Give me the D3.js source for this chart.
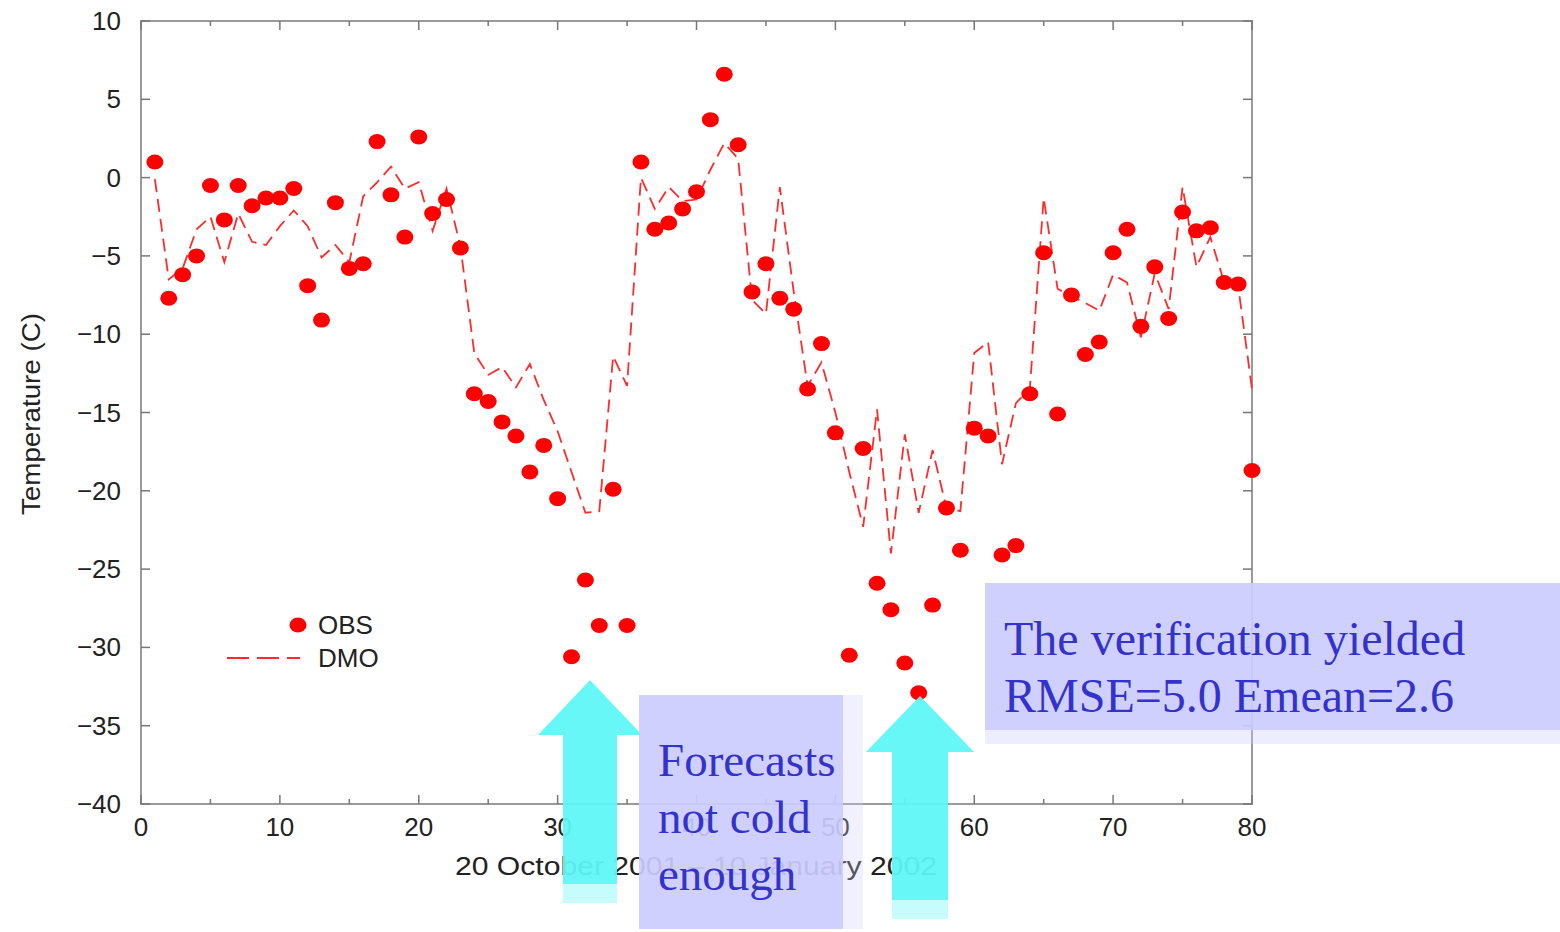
<!DOCTYPE html>
<html>
<head>
<meta charset="utf-8">
<script src="https://cdn.jsdelivr.net/npm/d3@7"></script>
<style>
  body { margin: 0; background: #fff; }
  svg { display: block; }
  .tick-label { font-family: "Liberation Sans", Arial, sans-serif; font-size: 26px; fill: #222; }
  .note { font-family: "Liberation Serif", "Times New Roman", serif; font-size: 47px; fill: #3333cc; }
</style>
</head>
<body>
<svg id="chart" width="1560" height="932"></svg>
<script>
// observed temperature (C), days 1..80
const obs = [1.0, -7.7, -6.2, -5.0, -0.5, -2.7, -0.5, -1.8, -1.3, -1.3,
  -0.7, -6.9, -9.1, -1.6, -5.8, -5.5, 2.3, -1.1, -3.8, 2.6,
  -2.3, -1.4, -4.5, -13.8, -14.3, -15.6, -16.5, -18.8, -17.1, -20.5,
  -30.6, -25.7, -28.6, -19.9, -28.6, 1.0, -3.3, -2.9, -2.0, -0.9,
  3.7, 6.6, 2.1, -7.3, -5.5, -7.7, -8.4, -13.5, -10.6, -16.3,
  -30.5, -17.3, -25.9, -27.6, -31.0, -32.9, -27.3, -21.1, -23.8, -16.0,
  -16.5, -24.1, -23.5, -13.8, -4.8, -15.1, -7.5, -11.3, -10.5, -4.8,
  -3.3, -9.5, -5.7, -9.0, -2.2, -3.4, -3.2, -6.7, -6.8, -18.7];

// direct model output forecast (C), days 1..80
const dmo = [-0.1, -6.5, -5.8, -3.3, -2.5, -5.4, -2.3, -4.1, -4.3, -3.1,
  -2.1, -3.1, -5.1, -4.3, -5.4, -1.2, -0.3, 0.7, -0.7, -0.3,
  -3.4, -0.7, -4.4, -11.2, -12.6, -12.1, -13.4, -11.9, -14.2, -16.2,
  -18.8, -21.4, -21.3, -11.4, -13.3, 0.0, -2.0, -0.6, -1.5, -1.4,
  0.5, 2.2, 1.2, -7.8, -8.7, -0.6, -7.3, -13.3, -11.8, -15.0,
  -18.8, -22.3, -14.8, -24.0, -16.4, -21.4, -17.4, -21.1, -21.3, -11.2,
  -10.5, -18.3, -14.4, -13.5, -1.3, -7.1, -7.6, -8.0, -8.5, -6.2,
  -6.7, -10.2, -6.1, -8.4, -0.6, -5.7, -3.8, -6.7, -6.9, -13.5];

const days = d3.range(1, obs.length + 1);

const xTicks = [0, 10, 20, 30, 40, 50, 60, 70, 80];
const yTicks = [10, 5, 0, -5, -10, -15, -20, -25, -30, -35, -40];

const xLabel = "20 October 2001 \u2013 10 January 2002";
const yLabel = "Temperature (C)";
const legendItems = ["OBS", "DMO"];
const noteLeft = ["Forecasts", "not cold", "enough"];
const noteRight = ["The verification yielded", "RMSE=5.0 Emean=2.6"];

const svg = d3.select("#chart");
const plot = {left: 141, right: 1252, top: 21, bottom: 804};

const x = d3.scaleLinear().domain([0, 80]).range([plot.left, plot.right]);
const y = d3.scaleLinear().domain([-40, 10]).range([plot.bottom, plot.top]);

const axisColor = "#9a9a9a";

// frame
svg.append("rect")
  .attr("x", plot.left).attr("y", plot.top)
  .attr("width", plot.right - plot.left).attr("height", plot.bottom - plot.top)
  .attr("fill", "none").attr("stroke", axisColor).attr("stroke-width", 2);

// ticks: bottom and top (inward), majors every 10, minors every 5
const xMinor = d3.range(0, 81, 5);
function drawXTicks(y0, dir) {
  svg.append("g").selectAll("line").data(xMinor).join("line")
    .attr("x1", d => x(d)).attr("x2", d => x(d))
    .attr("y1", y0).attr("y2", d => y0 + dir * (d % 10 === 0 ? 9 : 5))
    .attr("stroke", "#777").attr("stroke-width", 1.5);
}
drawXTicks(plot.bottom, -1);
drawXTicks(plot.top, 1);

function drawYTicks(x0, dir) {
  svg.append("g").selectAll("line").data(yTicks).join("line")
    .attr("x1", x0).attr("x2", x0 + dir * 9)
    .attr("y1", d => y(d)).attr("y2", d => y(d))
    .attr("stroke", "#777").attr("stroke-width", 1.5);
}
drawYTicks(plot.left, 1);
drawYTicks(plot.right, -1);

// tick labels
svg.append("g").selectAll("text").data(xTicks).join("text")
  .attr("class", "tick-label")
  .attr("x", d => x(d)).attr("y", plot.bottom + 32)
  .attr("text-anchor", "middle")
  .text(d => d);

svg.append("g").selectAll("text").data(yTicks).join("text")
  .attr("class", "tick-label")
  .attr("x", plot.left - 20).attr("y", d => y(d) + 9)
  .attr("text-anchor", "end")
  .text(d => d3.format("")(d));

svg.append("text")
  .attr("class", "tick-label")
  .attr("x", 455).attr("y", plot.bottom + 71)
  .attr("textLength", 482).attr("lengthAdjust", "spacingAndGlyphs")
  .text(xLabel);

svg.append("text")
  .attr("class", "tick-label")
  .attr("transform", "translate(40,515) rotate(-90)")
  .attr("textLength", 202).attr("lengthAdjust", "spacingAndGlyphs")
  .text(yLabel);

// DMO dashed line
const line = d3.line()
  .x((d, i) => x(days[i]))
  .y(d => y(d));

svg.append("path")
  .datum(dmo)
  .attr("d", line)
  .attr("fill", "none")
  .attr("stroke", "#ff2a2a")
  .attr("stroke-width", 1.8)
  .attr("stroke-dasharray", "13,7");

// OBS points
svg.append("g").selectAll("ellipse").data(obs).join("ellipse")
  .attr("cx", (d, i) => x(days[i]))
  .attr("cy", d => y(d))
  .attr("rx", 8.5).attr("ry", 7.5)
  .attr("fill", "#ff0000");

// legend
const lg = svg.append("g");
lg.append("ellipse").attr("cx", 298).attr("cy", 625).attr("rx", 8.5).attr("ry", 7.5).attr("fill", "#ff0000");
lg.append("line").attr("x1", 227).attr("x2", 300).attr("y1", 658).attr("y2", 658)
  .attr("stroke", "#ff2a2a").attr("stroke-width", 1.8).attr("stroke-dasharray", "22,8");
lg.selectAll("text").data(legendItems).join("text")
  .attr("class", "tick-label")
  .attr("x", 318).attr("y", (d, i) => 634 + i * 33)
  .text(d => d);

// annotation overlays
const cyan = "#5ef6f6";
function arrow(cx, apexY, headY, headHalf, shaftHalf, shaftBottom, fadeBottom) {
  const g = svg.append("g");
  g.append("rect")
    .attr("x", cx - shaftHalf).attr("y", shaftBottom)
    .attr("width", shaftHalf * 2).attr("height", fadeBottom - shaftBottom)
    .attr("fill", cyan).attr("opacity", 0.35);
  g.append("path")
    .attr("d", `M${cx},${apexY} L${cx + headHalf},${headY} L${cx + shaftHalf},${headY} L${cx + shaftHalf},${shaftBottom} L${cx - shaftHalf},${shaftBottom} L${cx - shaftHalf},${headY} L${cx - headHalf},${headY} Z`)
    .attr("fill", cyan).attr("opacity", 0.94);
}
arrow(590, 680, 735, 52, 27, 884, 903);
arrow(920, 696, 752, 54, 28, 900, 919);

function noteBox(x0, y0, w, h, fadeH, lines, tx, ty, lh, fs) {
  const g = svg.append("g");
  g.append("rect").attr("x", x0).attr("y", y0 + h).attr("width", w).attr("height", fadeH)
    .attr("fill", "#ccccff").attr("opacity", 0.35);
  g.append("rect").attr("x", x0).attr("y", y0).attr("width", w).attr("height", h)
    .attr("fill", "#ccccff").attr("opacity", 0.92);
  g.selectAll("text").data(lines).join("text")
    .attr("class", "note")
    .style("font-size", fs + "px")
    .attr("x", tx).attr("y", (d, i) => ty + i * lh)
    .text(d => d);
}
noteBox(639, 695, 204, 234, 0, noteLeft, 658, 776, 57, 47);
svg.append("rect").attr("x", 843).attr("y", 695).attr("width", 20).attr("height", 234)
  .attr("fill", "#ccccff").attr("opacity", 0.3);
noteBox(985, 583, 575, 147, 14, noteRight, 1004, 655, 57, 48);
</script>
</body>
</html>
